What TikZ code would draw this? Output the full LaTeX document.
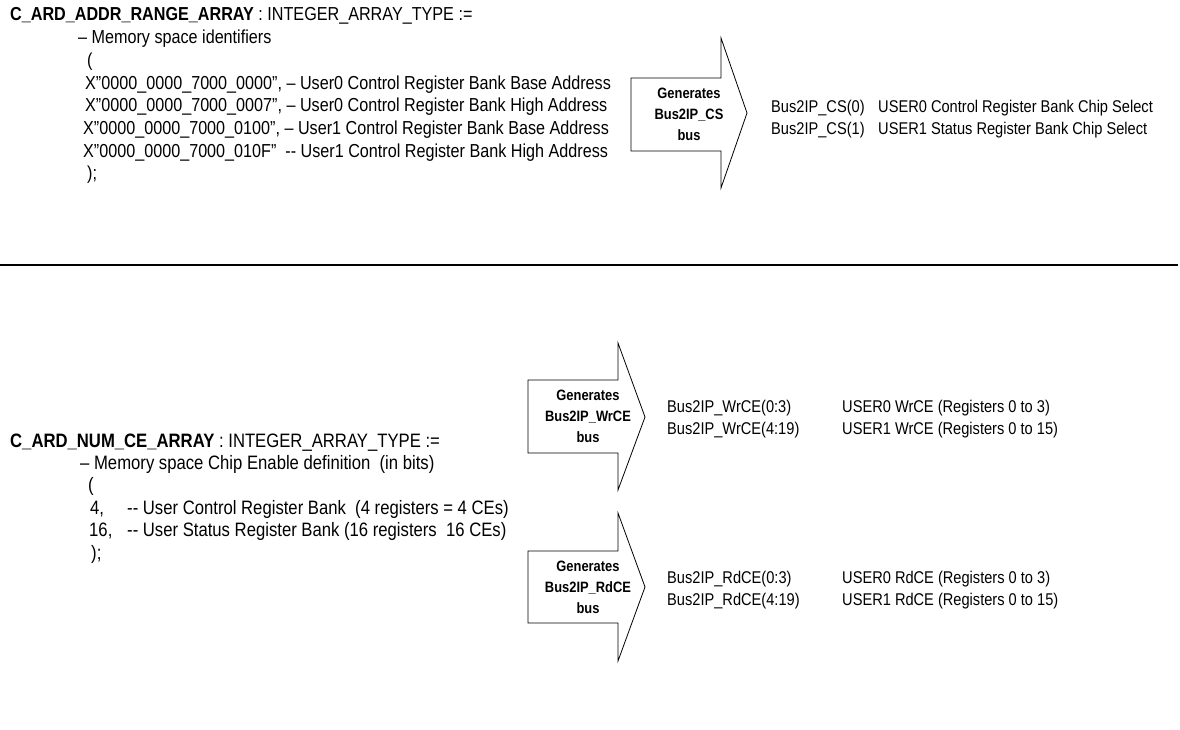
\documentclass[tikz,border=0pt]{standalone}
\usepackage{fontspec}
\setmainfont[FakeStretch=0.86]{Liberation Sans}
\usetikzlibrary{positioning}
\tikzset{code/.style={anchor=base west, inner sep=0pt, font=\fontsize{18.8}{22}\selectfont},
	cecode/.style={anchor=base west, inner sep=0pt, font=\fontsize{19.4}{22}\selectfont},
	sig/.style={anchor=base west, inner sep=0pt, font=\fontsize{17}{21}\selectfont},
	gen/.style={align=center, inner sep=0pt, font=\bfseries\fontsize{15}{21}\selectfont},
	busarrow/.style={draw=black, line width=0.8pt, line join=miter}}

\begin{document}
\begin{tikzpicture}[x=1pt,y=-1pt]
	\useasboundingbox (0,0) rectangle (1180,730);
	% address range array
	\node[code] (addrtitle) at (10,21) {\textbf{C\_ARD\_ADDR\_RANGE\_ARRAY} : INTEGER\_ARRAY\_TYPE :=};
	\node[code] (addrcmt) at (78,43.7) {– Memory space identifiers};
	\node[code] (addropen) at (87,66.4) {(};
	\node[code] (addrA) at (85,89.1) {X"0000\_0000\_7000\_0000", – User0 Control Register Bank Base Address};
	\node[code] (addrB) at (85,111.8) {X"0000\_0000\_7000\_0007", – User0 Control Register Bank High Address};
	\node[code] (addrC) at (83,134.5) {X"0000\_0000\_7000\_0100", – User1 Control Register Bank Base Address};
	\node[code] (addrD) at (83,157.2) {X"0000\_0000\_7000\_010F” \ -{}- User1 Control Register Bank High Address};
	\node[code] (addrclose) at (87,179.9) {);};
	% CS arrow
	\draw[busarrow] (631,78) -- (721,78) -- (721,38) -- (747,113) -- (721,188) -- (721,151) -- (631,151) -- cycle;
	\node[gen] (gencs) at (689,114.5) {Generates\\Bus2IP\_CS\\bus};
	\node[sig] (csA) at (771,113) {Bus2IP\_CS(0)};
	\node[sig] (csB) at (771,134.5) {Bus2IP\_CS(1)};
	\node[sig] (csAtxt) at (878,113) {USER0 Control Register Bank Chip Select};
	\node[sig] (csBtxt) at (878,134.5) {USER1 Status Register Bank Chip Select};
	% separator
	\coordinate (sepL) at (0,265);
	\coordinate (sepR) at (1178,265);
	\draw[line width=2.5pt] (sepL) -- (sepR);
	% num ce array
	\node[cecode] (cetitle) at (10,447) {\textbf{C\_ARD\_NUM\_CE\_ARRAY} : INTEGER\_ARRAY\_TYPE :=};
	\node[cecode] (cecmt) at (80,469.4) {– Memory space Chip Enable definition \ (in bits)};
	\node[cecode] (ceopen) at (88,491.8) {(};
	\node[cecode] (ceA) at (90,514.2) {4,};
	\node[cecode] (ceAtxt) at (127,514.2) {-{}- User Control Register Bank \ (4 registers = 4 CEs)};
	\node[cecode] (ceB) at (89,536.6) {16,};
	\node[cecode] (ceBtxt) at (127,536.6) {-{}- User Status Register Bank (16 registers \ 16 CEs)};
	\node[cecode] (ceclose) at (91,559) {);};
	% WrCE arrow
	\draw[busarrow] (528,380) -- (618,380) -- (618,343) -- (645,417) -- (618,490) -- (618,453) -- (528,453) -- cycle;
	\node[gen] (genwr) at (588,416.5) {Generates\\Bus2IP\_WrCE\\bus};
	\node[sig] (wrA) at (667,412) {Bus2IP\_WrCE(0:3)};
	\node[sig] (wrB) at (667,434) {Bus2IP\_WrCE(4:19)};
	\node[sig] (wrAtxt) at (842,412) {USER0 WrCE (Registers 0 to 3)};
	\node[sig] (wrBtxt) at (842,434) {USER1 WrCE (Registers 0 to 15)};
	% RdCE arrow
	\draw[busarrow] (528,551) -- (618,551) -- (618,513) -- (645,587) -- (618,661) -- (618,623) -- (528,623) -- cycle;
	\node[gen] (genrd) at (588,587) {Generates\\Bus2IP\_RdCE\\bus};
	\node[sig] (rdA) at (667,583) {Bus2IP\_RdCE(0:3)};
	\node[sig] (rdB) at (667,605) {Bus2IP\_RdCE(4:19)};
	\node[sig] (rdAtxt) at (842,583) {USER0 RdCE (Registers 0 to 3)};
	\node[sig] (rdBtxt) at (842,605) {USER1 RdCE (Registers 0 to 15)};
\end{tikzpicture}
\end{document}
